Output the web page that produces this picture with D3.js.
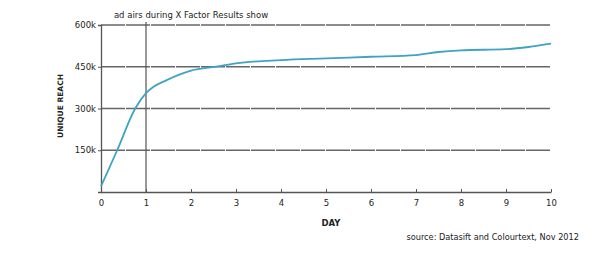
<!DOCTYPE html>
<html>
<head>
<meta charset="utf-8">
<script src="https://cdn.jsdelivr.net/npm/d3@7"></script>
<style>
  body { margin: 0; background: #fff; }
  text { font-family: "DejaVu Sans", sans-serif; fill: #222; }
</style>
</head>
<body>
<div id="chart"></div>
<script>
// values
var days  = [0, 0.36, 0.76, 1, 1.16, 1.46, 2, 2.6, 3, 4, 5, 6, 7, 7.5, 8, 9, 9.5, 10];
var reach = [20000, 150000, 300000, 355000, 377000, 402000, 436000, 451000, 462000, 474000, 480000, 486000, 492000, 503000, 509000, 513000, 521000, 533000];
var yTicks = [150000, 300000, 450000, 600000];
var xTicks = [0, 1, 2, 3, 4, 5, 6, 7, 8, 9, 10];
var eventDay = 1;

var width = 610, height = 258;
var margin = {top: 25, left: 101, right: 59, bottom: 66};

var svg = d3.select("#chart").append("svg")
    .attr("width", width)
    .attr("height", height);

var x = d3.scaleLinear().domain([0, 10]).range([margin.left, width - margin.right]);
var y = d3.scaleLinear().domain([0, 600000]).range([height - margin.bottom, margin.top]);

// grid lines
svg.append("g").selectAll("line")
    .data(yTicks)
    .enter().append("line")
      .attr("x1", x(0)).attr("x2", x(10))
      .attr("y1", d => y(d)).attr("y2", d => y(d))
      .attr("stroke", "#666")
      .attr("stroke-width", 1.3)
      .attr("stroke-dasharray", "24,1");

// y axis
var yAxis = d3.axisLeft(y)
    .tickValues(yTicks)
    .tickSize(3)
    .tickFormat(d => (d / 1000) + "k");
var gy = svg.append("g")
    .attr("transform", "translate(" + x(0) + ",0)")
    .call(yAxis);
gy.select(".domain").attr("stroke", "#555").attr("stroke-width", 1.3);
gy.selectAll(".tick line").attr("stroke", "#555");
gy.selectAll("text").style("font-size", "8.5px").attr("fill", "#222").attr("x", -5);

// x axis
var xAxis = d3.axisBottom(x)
    .tickValues(xTicks)
    .tickSizeInner(-3)
    .tickSizeOuter(0)
    .tickFormat(d3.format("d"));
var gx = svg.append("g")
    .attr("transform", "translate(0," + y(0) + ")")
    .call(xAxis);
gx.select(".domain").attr("stroke", "#555").attr("stroke-width", 1.3);
gx.selectAll(".tick line").attr("stroke", "#555");
gx.selectAll("text").style("font-size", "8.5px").attr("fill", "#222").attr("y", 8);

// event marker
svg.append("line")
    .attr("x1", x(eventDay)).attr("x2", x(eventDay))
    .attr("y1", y(600000) - 3).attr("y2", y(0))
    .attr("stroke", "#555")
    .attr("stroke-width", 1.2);

svg.append("text")
    .attr("x", 191).attr("y", 18)
    .attr("text-anchor", "middle")
    .style("font-size", "8.5px")
    .text("ad airs during X Factor Results show");

// reach line
var line = d3.line()
    .x((d, i) => x(days[i]))
    .y(d => y(d))
    .curve(d3.curveMonotoneX);

svg.append("path")
    .datum(reach)
    .attr("d", line)
    .attr("fill", "none")
    .attr("stroke", "#3fa3c2")
    .attr("stroke-width", 1.8);

// axis titles
svg.append("text")
    .attr("transform", "translate(63,106) rotate(-90)")
    .attr("text-anchor", "middle")
    .style("font-size", "7.5px")
    .style("font-weight", "bold")
    .text("UNIQUE REACH");

svg.append("text")
    .attr("x", 331).attr("y", 226)
    .attr("text-anchor", "middle")
    .style("font-size", "8.5px")
    .style("font-weight", "bold")
    .text("DAY");

svg.append("text")
    .attr("x", 579).attr("y", 240)
    .attr("text-anchor", "end")
    .style("font-size", "8.2px")
    .text("source: Datasift and Colourtext, Nov 2012");
</script>
</body>
</html>
